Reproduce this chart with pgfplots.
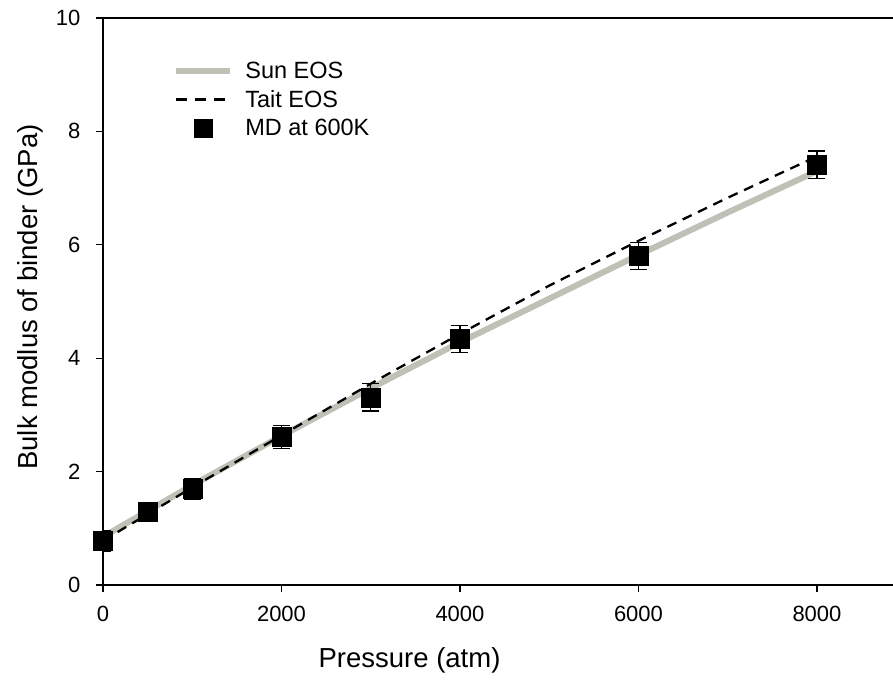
\documentclass[border=0pt]{standalone}
\usepackage{fontspec}
\setmainfont{Liberation Sans}
\usepackage{pgfplots}
\pgfplotsset{compat=1.18}
\definecolor{sungray}{RGB}{192,192,182}
\begin{document}
\begin{tikzpicture}
\path[use as bounding box] (-103pt,-95pt) rectangle (790pt,585pt);
\begin{axis}[
    at={(0,0)}, anchor=origin,
    scale only axis, width=790pt, height=567pt,
    xmin=0, xmax=8852, ymin=0, ymax=10,
    axis x line*=box, axis y line*=left,
    xtick={0,2000,4000,6000,8000}, ytick={0,2,...,10},
    xtick pos=bottom, ytick pos=left,
    tick align=outside, major tick length=7pt,
    tick style={black, line width=1.2pt},
    axis line style={black, line width=1.4pt},
    scaled x ticks=false,
    /pgf/number format/set thousands separator={},
    /pgf/number format/assume math mode=true,
    tick label style={font=\fontsize{22}{26}\selectfont},
    xticklabel style={yshift=-11pt},
    yticklabel style={xshift=-12pt},
    label style={font=\fontsize{27.5}{32}\selectfont},
    xlabel={Pressure (atm)},
    ylabel={Bulk modlus of binder (GPa)},
    xlabel style={at={(axis description cs:0.388,-0.1323)}, anchor=center},
    ylabel style={at={(axis description cs:-0.0924,0.508)}, anchor=center},
    legend style={at={(axis description cs:0.085,0.93)}, anchor=north west,
        draw=none, fill=none, font=\fontsize{23.5}{28}\selectfont,
        row sep=6.5pt,
        /tikz/every odd column/.append style={column sep=10pt}},
    legend cell align=left,
]
% Sun EOS
\addplot[sungray, line width=6pt,
    legend image code/.code={\draw[sungray, line width=6pt] (0pt,0pt) -- (54pt,0pt);}]
    coordinates {(0,0.85) (1000,1.76) (2000,2.63) (3000,3.47) (4000,4.28)
                 (5000,5.05) (6000,5.82) (7000,6.57) (8000,7.30)};
% Tait EOS
\addplot[black, line width=2.3pt, dash pattern=on 10pt off 7pt,
    legend image code/.code={\draw[black, line width=2.3pt, dash pattern=on 11pt off 8pt] (0pt,0pt) -- (54pt,0pt);}]
    coordinates {(0,0.78) (1000,1.72) (2000,2.64) (3000,3.55) (4000,4.43)
                 (5000,5.28) (6000,6.07) (7000,6.83) (8000,7.56)};
% MD at 600K
\addplot[black, only marks, mark=square*, mark size=9.5pt,
    error bars/.cd, y dir=both, y explicit,
    error bar style={black, line width=1.5pt},
    error mark options={rotate=90, mark size=8.5pt, line width=1.5pt},
    /pgfplots/.cd,
    legend image code/.code={\draw[opacity=0, line width=0.1pt] (0pt,0pt) -- (54pt,0pt);
        \fill[black] (18pt,-9pt) rectangle (36pt,9pt);},
    ]
    coordinates {(0,0.78) +- (0,0.18) (500,1.29) +- (0,0.15)
                 (1000,1.69) +- (0,0.18) (2000,2.61) +- (0,0.2)
                 (3000,3.31) +- (0,0.24) (4000,4.34) +- (0,0.24)
                 (6000,5.80) +- (0,0.24) (8000,7.41) +- (0,0.24)};
\legend{Sun EOS, Tait EOS, MD at 600K}
\end{axis}
\end{tikzpicture}
\end{document}
